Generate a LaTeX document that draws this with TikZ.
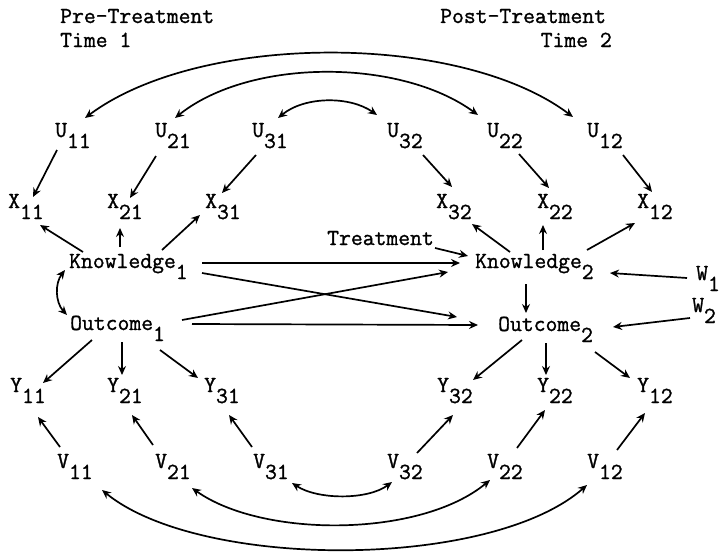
\documentclass[tikz,border=0pt]{standalone}
\usepackage{fontspec}
\setmonofont{Latin Modern Mono}[FakeBold=1.2]
\usetikzlibrary{arrows.meta,calc}
\newcommand\dn[1]{\raisebox{-11pt}{#1}}
\begin{document}
\begin{tikzpicture}[x=1pt,y=-1pt,
  lab/.style={anchor=base west,inner sep=0pt,font=\fontsize{23}{26}\selectfont\ttfamily},
  arr/.style={line width=1.7pt,-{Stealth[length=9pt,width=8pt,inset=3pt]}},
  darr/.style={line width=1.7pt,{Stealth[length=9pt,width=8pt,inset=3pt]}-{Stealth[length=9pt,width=8pt,inset=3pt]}},
  ln/.style={line width=1.7pt}]
\useasboundingbox (0,0) rectangle (721,554);
% headers
\node[lab] (pre) at (60,23) {Pre-Treatment};
\node[lab] (t1) at (60,47) {Time 1};
\node[lab] (post) at (440,23) {Post-Treatment};
\node[lab,anchor=base east] (t2) at (612,47) {Time 2};
% U row
\node[lab] (u11) at (55,137) {U\dn{11}};
\node[lab] (u21) at (155,137) {U\dn{21}};
\node[lab] (u31) at (252,137) {U\dn{31}};
\node[lab] (u32) at (387,137) {U\dn{32}};
\node[lab] (u22) at (487,137) {U\dn{22}};
\node[lab] (u12) at (587,137) {U\dn{12}};
% X row
\node[lab] (x11) at (8,208) {X\dn{11}};
\node[lab] (x21) at (107,208) {X\dn{21}};
\node[lab] (x31) at (205,208) {X\dn{31}};
\node[lab] (x32) at (436,208) {X\dn{32}};
\node[lab] (x22) at (537,208) {X\dn{22}};
\node[lab] (x12) at (637,208) {X\dn{12}};
% latent
\node[lab] (k1) at (69,268) {Knowledge\dn{1}};
\node[lab] (o1) at (70,330) {Outcome\dn{1}};
\node[lab] (k2) at (475,268) {Knowledge\dn{2}};
\node[lab] (o2) at (498,331) {Outcome\dn{2}};
\node[lab] (tr) at (327,245) {Treatment};
\node[lab] (w1) at (696,280) {W\dn{1}};
\node[lab] (w2) at (692,312) {W\dn{2}};
% Y row
\node[lab] (y11) at (10,392) {Y\dn{11}};
\node[lab] (y21) at (107,392) {Y\dn{21}};
\node[lab] (y31) at (204,392) {Y\dn{31}};
\node[lab] (y32) at (437,392) {Y\dn{32}};
\node[lab] (y22) at (537,392) {Y\dn{22}};
\node[lab] (y12) at (637,392) {Y\dn{12}};
% V row
\node[lab] (v11) at (57,468) {V\dn{11}};
\node[lab] (v21) at (155,468) {V\dn{21}};
\node[lab] (v31) at (253,468) {V\dn{31}};
\node[lab] (v32) at (387,468) {V\dn{32}};
\node[lab] (v22) at (487,468) {V\dn{22}};
\node[lab] (v12) at (587,468) {V\dn{12}};

% U -> X
\draw[arr] ($(u11.base west)+(2,13)$) -- ($(x11.base west)+(25,-11)$);
\draw[arr] ($(u21.base west)+(1,19)$) -- ($(x21.base west)+(23,-10)$);
\draw[arr] ($(u31.base west)+(4,18)$) -- ($(x31.base west)+(17,-15)$);
\draw[arr] ($(u32.base west)+(36,18)$) -- ($(x32.base west)+(16,-21)$);
\draw[arr] ($(u22.base west)+(32,17)$) -- ($(x22.base west)+(12,-20)$);
\draw[arr] ($(u12.base west)+(36,18)$) -- ($(x12.base west)+(15,-16)$);
% Knowledge -> X
\draw[arr] ($(k1.base west)+(14,-16)$) -- ($(x11.base west)+(32,17)$);
\draw[arr] ($(k1.base west)+(51,-21)$) -- ($(x21.base west)+(13,20)$);
\draw[arr] ($(k1.base west)+(93,-18)$) -- ($(x31.base west)+(-5,7)$);
\draw[arr] ($(k2.base west)+(35,-16)$) -- ($(x32.base west)+(36,16)$);
\draw[arr] ($(k2.base west)+(68,-18)$) -- ($(x22.base west)+(6,17)$);
\draw[arr] ($(k2.base west)+(112,-18)$) -- ($(x12.base west)+(-2,15)$);
% structural paths
\draw[darr] ($(k1.base west)+(-4,2)$) .. controls (55,283) and (55,302) .. ($(o1.base west)+(-3,-15)$);
\draw[arr] ($(k1.base west)+(133,-5)$) -- ($(k2.base west)+(-15,-5)$);
\draw[arr] ($(k1.base west)+(133,5)$) -- ($(o2.base west)+(-41,-14)$);
\draw[arr] ($(o1.base west)+(112,-10)$) -- ($(k2.base west)+(-27,4)$);
\draw[arr] ($(o1.base west)+(122,-6)$) -- ($(o2.base west)+(-20,-6)$);
\draw[arr] ($(tr.base west)+(108,3)$) -- ($(k2.base west)+(-7,-12)$);
\draw[arr] ($(k2.base west)+(51,16)$) -- ($(o2.base west)+(28,-18)$);
\draw[arr] ($(w1.base west)+(-9,-2)$) -- ($(k2.base west)+(135,5)$);
\draw[arr] ($(w2.base west)+(-2,6)$) -- ($(o2.base west)+(115,-4)$);
% Outcome -> Y
\draw[arr] ($(o1.base west)+(22,10)$) -- ($(y11.base west)+(33,-9)$);
\draw[arr] ($(o1.base west)+(52,12)$) -- ($(y21.base west)+(15,-17)$);
\draw[arr] ($(o1.base west)+(90,20)$) -- ($(y31.base west)+(-6,-14)$);
\draw[arr] ($(o2.base west)+(24,9)$) -- ($(y32.base west)+(36,-12)$);
\draw[arr] ($(o2.base west)+(48,12)$) -- ($(y22.base west)+(9,-17)$);
\draw[arr] ($(o2.base west)+(97,21)$) -- ($(y12.base west)+(-7,-14)$);
% V -> Y
\draw[arr] ($(v11.base west)+(3,-21)$) -- ($(y11.base west)+(28,25)$);
\draw[arr] ($(v21.base west)+(-2,-23)$) -- ($(y21.base west)+(25,23)$);
\draw[arr] ($(v31.base west)+(-1,-21)$) -- ($(y31.base west)+(25,23)$);
\draw[arr] ($(v32.base west)+(30,-15)$) -- ($(y32.base west)+(16,23)$);
\draw[arr] ($(v22.base west)+(30,-20)$) -- ($(y22.base west)+(8,18)$);
\draw[arr] ($(v12.base west)+(30,-18)$) -- ($(y12.base west)+(8,21)$);
% correlated errors, top
\draw[darr] ($(u11.base west)+(30,-19)$) .. controls (200,32) and (460,32) .. ($(u12.base west)+(-14,-20)$);
\draw[darr] ($(u21.base west)+(20,-19)$) .. controls (250,58) and (400,58) .. ($(u22.base west)+(-9,-22)$);
\draw[darr] ($(u31.base west)+(26,-19)$) .. controls (305,96) and (350,96) .. ($(u32.base west)+(-10,-22)$);
% correlated errors, bottom
\draw[darr] ($(v31.base west)+(39,15)$) .. controls (318,500) and (368,500) .. ($(v32.base west)+(5,14)$);
\draw[darr] ($(v21.base west)+(37,20)$) .. controls (262,538) and (420,538) .. ($(v22.base west)+(3,12)$);
\draw[darr] ($(v11.base west)+(45,22)$) .. controls (200,570) and (490,570) .. ($(v12.base west)+(0,17)$);
\end{tikzpicture}
\end{document}
